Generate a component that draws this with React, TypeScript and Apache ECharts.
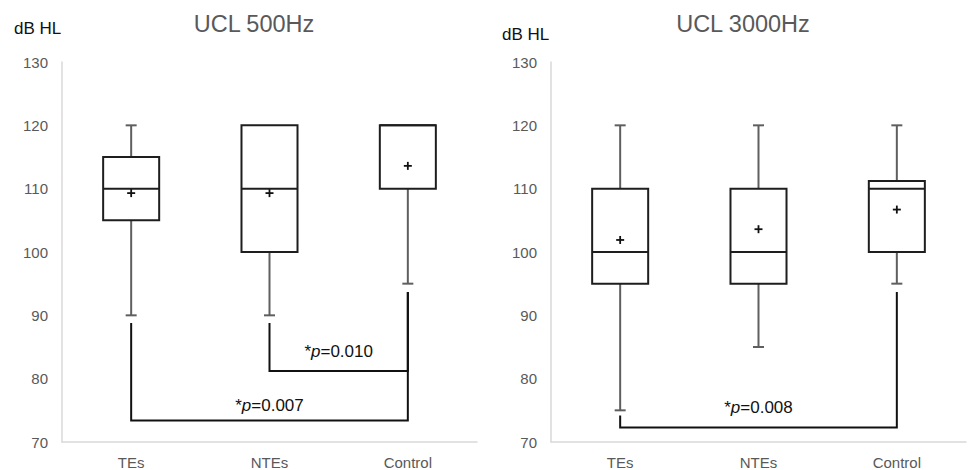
import { useEffect, useRef } from 'react';
import * as echarts from 'echarts';

const categories = ['TEs', 'NTEs', 'Control'];
const yMin = 70;
const yMax = 130;
const yStep = 10;
const titles = ['UCL 500Hz', 'UCL 3000Hz'];
const yUnit = 'dB HL';

// [low, Q1, median, Q3, high]
const ucl500Box = [
  [90, 105, 110, 115, 120],
  [90, 100, 110, 120, 120],
  [95, 110, 120, 120, 120],
];
const ucl500Mean = [109.3, 109.3, 113.6];
const ucl3000Box = [
  [75, 95, 100, 110, 120],
  [85, 95, 100, 110, 120],
  [95, 100, 110, 111.2, 120],
];
const ucl3000Mean = [101.9, 103.6, 106.7];

// significance brackets: [fromCat, toCat, fromTop, toTop, bottom, labelY]
const ucl500Brackets = [
  [0, 2, 88.8, 93.7, 73.4, 75.7],
  [1, 2, 88.8, 93.7, 81.2, 84.3],
];
const ucl500P = ['0.007', '0.010'];
const ucl3000Brackets = [[0, 2, 74.2, 93.7, 72.3, 75.4]];
const ucl3000P = ['0.008'];

const FONT = 'Liberation Sans, Arial, sans-serif';

function renderBox(_params: any, api: any) {
  const c = api.value(0);
  const low = api.value(1);
  const q1 = api.value(2);
  const med = api.value(3);
  const q3 = api.value(4);
  const high = api.value(5);
  const mean = api.value(6);
  const band = api.size([1, 0])[0];
  const bw = band * 0.405;
  const cx = api.coord([c, low])[0];
  const yLow = api.coord([c, low])[1];
  const yQ1 = api.coord([c, q1])[1];
  const yMed = api.coord([c, med])[1];
  const yQ3 = api.coord([c, q3])[1];
  const yHigh = api.coord([c, high])[1];
  const yMean = api.coord([c, mean])[1];
  const wStyle = { stroke: '#5f5f5f', lineWidth: 2 };
  const bStyle = { stroke: '#1e1e1e', lineWidth: 2 };
  const cap = 11;
  const children: any[] = [];
  if (high > q3) {
    children.push({ type: 'line', shape: { x1: cx, y1: yHigh, x2: cx, y2: yQ3 }, style: wStyle });
    children.push({ type: 'line', shape: { x1: cx - cap / 2, y1: yHigh, x2: cx + cap / 2, y2: yHigh }, style: wStyle });
  }
  if (low < q1) {
    children.push({ type: 'line', shape: { x1: cx, y1: yLow, x2: cx, y2: yQ1 }, style: wStyle });
    children.push({ type: 'line', shape: { x1: cx - cap / 2, y1: yLow, x2: cx + cap / 2, y2: yLow }, style: wStyle });
  }
  children.push({
    type: 'rect',
    shape: { x: cx - bw / 2, y: yQ3, width: bw, height: yQ1 - yQ3 },
    style: { fill: '#ffffff', ...bStyle },
  });
  children.push({ type: 'line', shape: { x1: cx - bw / 2, y1: yMed, x2: cx + bw / 2, y2: yMed }, style: bStyle });
  const m = 4;
  children.push({ type: 'line', shape: { x1: cx - m, y1: yMean, x2: cx + m, y2: yMean }, style: { stroke: '#111', lineWidth: 1.8 } });
  children.push({ type: 'line', shape: { x1: cx, y1: yMean - m, x2: cx, y2: yMean + m }, style: { stroke: '#111', lineWidth: 1.8 } });
  return { type: 'group', children };
}

function makeBracketRenderer(labels: string[]) {
  return function (params: any, api: any) {
    const a = api.value(0);
    const b = api.value(1);
    const p1 = api.coord([a, api.value(2)]);
    const p2 = api.coord([b, api.value(3)]);
    const yb = api.coord([a, api.value(4)])[1];
    const yl = api.coord([a, api.value(5)])[1];
    return {
      type: 'group',
      children: [
        {
          type: 'polyline',
          shape: { points: [[p1[0], p1[1]], [p1[0], yb], [p2[0], yb], [p2[0], p2[1]]] },
          style: { stroke: '#111', lineWidth: 2, fill: 'none' },
        },
        {
          type: 'text',
          x: (p1[0] + p2[0]) / 2,
          y: yl,
          style: {
            text: '{n|*}{i|p}{n|=' + labels[params.dataIndex] + '}',
            align: 'center',
            verticalAlign: 'middle',
            fill: '#111',
            fontSize: 17,
            fontFamily: FONT,
            rich: {
              n: { fontSize: 17, fontFamily: FONT, fill: '#111' },
              i: { fontSize: 17, fontFamily: FONT, fontStyle: 'italic', fill: '#111' },
            },
          },
        },
      ],
    };
  };
}

export default function App() {
  const ref = useRef<HTMLDivElement>(null);
  useEffect(() => {
    if (!ref.current) return;
    const chart = echarts.init(ref.current, null, { renderer: 'svg' });
    const grids = [
      { left: 62, top: 62, width: 415, height: 380 },
      { left: 551, top: 62, width: 415, height: 380 },
    ];
    const xAxis = grids.map((_, i) => ({
      type: 'category',
      gridIndex: i,
      data: categories,
      axisLine: { show: true, lineStyle: { color: '#d9d9d9', width: 1.5 } },
      axisTick: { show: false },
      axisLabel: { color: '#595959', fontSize: 15, fontFamily: FONT, margin: 13 },
      splitLine: { show: false },
    }));
    const yAxis = grids.map((_, i) => ({
      type: 'value',
      gridIndex: i,
      min: yMin,
      max: yMax,
      interval: yStep,
      axisLine: { show: true, lineStyle: { color: '#d9d9d9', width: 1.5 } },
      axisTick: { show: false },
      axisLabel: { color: '#595959', fontSize: 15, fontFamily: FONT, margin: 14 },
      splitLine: { show: false },
    }));
    const boxSets = [
      { box: ucl500Box, mean: ucl500Mean },
      { box: ucl3000Box, mean: ucl3000Mean },
    ];
    const bracketSets = [
      { data: ucl500Brackets, p: ucl500P },
      { data: ucl3000Brackets, p: ucl3000P },
    ];
    const series: any[] = [];
    boxSets.forEach((s, i) => {
      series.push({
        type: 'custom',
        xAxisIndex: i,
        yAxisIndex: i,
        clip: false,
        renderItem: renderBox,
        encode: { x: 0, y: [1, 2, 3, 4, 5, 6] },
        data: s.box.map((b, k) => [k, ...b, s.mean[k]]),
        z: 3,
      });
    });
    bracketSets.forEach((s, i) => {
      series.push({
        type: 'custom',
        xAxisIndex: i,
        yAxisIndex: i,
        clip: false,
        renderItem: makeBracketRenderer(s.p),
        encode: { x: [0, 1], y: [2, 3, 4, 5] },
        data: s.data,
        z: 4,
      });
    });
    chart.setOption({
      animation: false,
      backgroundColor: '#ffffff',
      grid: grids,
      xAxis,
      yAxis,
      series,
      graphic: [
        { type: 'text', x: 254, y: 24, style: { text: titles[0], align: 'center', verticalAlign: 'middle', fontSize: 23.5, fontFamily: FONT, fill: '#595959' } },
        { type: 'text', x: 743, y: 24, style: { text: titles[1], align: 'center', verticalAlign: 'middle', fontSize: 23.5, fontFamily: FONT, fill: '#595959' } },
        { type: 'text', x: 14, y: 28, style: { text: yUnit, align: 'left', verticalAlign: 'middle', fontSize: 17, fontFamily: FONT, fill: '#111' } },
        { type: 'text', x: 502, y: 34, style: { text: yUnit, align: 'left', verticalAlign: 'middle', fontSize: 17, fontFamily: FONT, fill: '#111' } },
      ],
    });
    return () => chart.dispose();
  }, []);
  return <div ref={ref} style={{ position: 'fixed', left: 0, top: 0, width: 972, height: 470 }} />;
}
